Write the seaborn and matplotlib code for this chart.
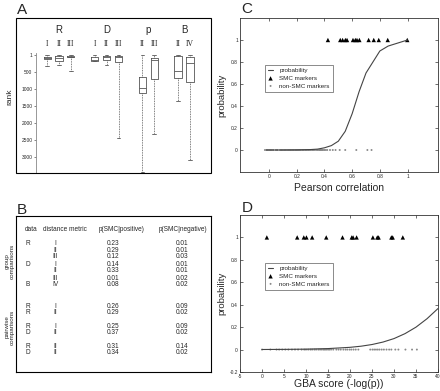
import matplotlib
matplotlib.use("Agg")
import matplotlib.pyplot as plt
import seaborn as sns
from matplotlib.patches import Rectangle

# -------------------------------
# Data
# -------------------------------

# Panel A: rank distributions (box summary per data set / metric)
box_group = ["R", "R", "R", "D", "D", "D", "p", "p", "B", "B"]
box_metric = ["I", "II", "III", "I", "II", "III", "II", "III", "II", "IV"]
box_whislo = [1, 1, 1, 1, 1, 1, 1, 1, 1, 1]
box_q1 = [50, 20, 20, 40, 20, 20, 645, 70, 30, 50]
box_med = [70, 80, 40, 130, 50, 40, 960, 150, 465, 230]
box_q3 = [100, 170, 50, 160, 130, 200, 1120, 690, 665, 790]
box_whishi = [318, 275, 455, 170, 280, 2450, 3450, 2325, 1357, 3100]
rank_ticks = [1, 500, 1000, 1500, 2000, 2500, 3000]

# Panel B: table
tbl_data = ["R", "", "", "D", "", "", "B", "R", "R", "R", "D", "R", "D"]
tbl_metric = ["I", "II", "III", "I", "II", "III", "IV", "I", "II", "I", "II", "II", "II"]
tbl_pos = [0.23, 0.29, 0.12, 0.14, 0.33, 0.01, 0.08, 0.26, 0.29, 0.25, 0.37, 0.31, 0.34]
tbl_neg = [0.01, 0.01, 0.03, 0.01, 0.01, 0.02, 0.02, 0.09, 0.02, 0.09, 0.02, 0.14, 0.02]
tbl_header = ["data", "distance metric", "p(SMC|positive)", "p(SMC|negative)"]

# Panel C: Pearson correlation
curve_c_x = [-0.02, 0.1, 0.2, 0.3, 0.35, 0.4, 0.45, 0.5, 0.55, 0.6, 0.65, 0.7, 0.75, 0.8, 0.86, 1.0]
curve_c_y = [0.0, 0.0, 0.001, 0.004, 0.008, 0.02, 0.04, 0.08, 0.17, 0.33, 0.53, 0.7, 0.8, 0.9, 0.945, 1.0]
smc_c = [0.425, 0.514, 0.531, 0.551, 0.563, 0.606, 0.623, 0.635, 0.652, 0.719, 0.756, 0.792, 0.857, 0.998]
nonsmc_c = [-0.03, -0.02, -0.01, 0.0, 0.01, 0.02, 0.03, 0.05, 0.06, 0.08, 0.09, 0.10, 0.11,
            0.12, 0.13, 0.14, 0.15, 0.155, 0.16, 0.17, 0.175, 0.18, 0.19, 0.195, 0.20, 0.205,
            0.21, 0.215, 0.22, 0.225, 0.23, 0.24, 0.245, 0.25, 0.26, 0.265, 0.27, 0.28, 0.285,
            0.29, 0.30, 0.31, 0.315, 0.32, 0.33, 0.34, 0.35, 0.36, 0.365, 0.37, 0.375, 0.38,
            0.385, 0.39, 0.40, 0.41, 0.42, 0.44, 0.46, 0.48, 0.51, 0.55, 0.63, 0.71, 0.74]
c_xticks = [0, 0.2, 0.4, 0.6, 0.8, 1]
c_xlabels = ["0", "0.2", "0.4", "0.6", "0.8", "1"]
c_yticks = [0, 0.2, 0.4, 0.6, 0.8, 1]
c_ylabels = ["0", "0.2", "0.4", "0.6", "0.8", "1"]

# Panel D: GBA score
curve_d_x = [0, 5, 10, 15, 20, 22.5, 25, 27.5, 30, 32.5, 35, 37.5, 40]
curve_d_y = [0.0007, 0.0017, 0.0038, 0.0088, 0.020, 0.030, 0.045, 0.067, 0.098, 0.142, 0.20, 0.275, 0.366]
smc_d = [1.1, 8.0, 9.5, 10.1, 11.4, 14.6, 18.3, 20.4, 20.7, 21.5, 25.2, 26.2, 26.5, 29.4, 29.7, 32.0]
nonsmc_d = [0.0, 1.9, 3.3, 3.9, 4.6, 5.3, 6.0, 6.8, 7.5, 8.2, 9.0, 9.6, 10.0, 10.5, 11.0, 11.4,
            11.9, 12.3, 12.8, 13.2, 13.6, 14.0, 14.3, 14.6, 15.0, 15.3, 15.7, 16.2, 16.9, 17.4,
            17.9, 18.5, 19.0, 19.4, 19.9, 20.3, 20.8, 21.3, 21.9, 24.6, 25.1, 25.5, 25.9, 26.3,
            26.7, 27.2, 27.7, 28.3, 28.9, 29.4, 30.3, 31.0, 32.6, 34.1, 35.2]
d_xticks = [-5, 0, 5, 10, 15, 20, 25, 30, 35, 40]
d_xlabels = ["-5", "0", "5", "10", "15", "20", "25", "30", "35", "40"]
d_yticks = [-0.2, 0, 0.2, 0.4, 0.6, 0.8, 1]
d_ylabels = ["-0.2", "0", "0.2", "0.4", "0.6", "0.8", "1"]

# -------------------------------
# Figure setup
# -------------------------------

sns.set_theme(style="white")
plt.rcParams["font.family"] = ["Liberation Sans", "DejaVu Sans"]

W, H = 440, 391
fig = plt.figure(figsize=(4.4, 3.91), dpi=100)
fig.patch.set_facecolor("white")


def box(x0, y0, x1, y1):
    # pixel box (top-left origin) -> figure fraction
    return [x0 / W, 1 - y1 / H, (x1 - x0) / W, (y1 - y0) / H]


letter_kw = dict(fontsize=11, ha="center", va="center")
fig.text(22 / W, 1 - 10 / H, "A", **letter_kw)
fig.text(22 / W, 1 - 210 / H, "B", **letter_kw)
fig.text(247 / W, 1 - 9 / H, "C", **letter_kw)
fig.text(247 / W, 1 - 208 / H, "D", **letter_kw)

# -------------------------------
# Panel A - boxplots
# -------------------------------

fig.add_artist(Rectangle((16 / W, 1 - 173 / H), 195 / W, 155 / H,
                         transform=fig.transFigure, fill=False, lw=0.8, ec="black"))

ax_a = fig.add_axes(box(36, 18, 209, 173))
ax_a.patch.set_alpha(0)
positions = [1, 2, 3, 5, 6, 7, 9, 10, 12, 13]
stats = []
for i in range(len(box_metric)):
    stats.append(dict(whislo=box_whislo[i], q1=box_q1[i], med=box_med[i],
                      q3=box_q3[i], whishi=box_whishi[i]))
gray = "#555555"
ax_a.bxp(stats, positions=positions, widths=0.6, showfliers=False,
         boxprops=dict(color=gray, lw=0.6),
         whiskerprops=dict(color=gray, lw=0.6, linestyle=(0, (1, 1))),
         capprops=dict(color=gray, lw=0.6),
         medianprops=dict(color=gray, lw=0.6))
ax_a.set_xlim(0.07, 14.6)
ax_a.set_ylim(3475, -1100)
ax_a.set_xticks([])
ax_a.set_yticks(rank_ticks)
ax_a.set_yticklabels([str(t) for t in rank_ticks])
ax_a.tick_params(axis="y", left=True, direction="out", length=1.5, width=0.5,
                 labelsize=3.5, pad=1, color=gray)
for s in ["top", "right", "bottom"]:
    ax_a.spines[s].set_visible(False)
ax_a.spines["left"].set_bounds(-60, 3475)
ax_a.spines["left"].set_linewidth(0.6)
ax_a.spines["left"].set_color("#888888")
fig.text(10 / W, 1 - 97 / H, "rank", rotation=90, fontsize=6, ha="center", va="center")

for g in ["R", "D", "p", "B"]:
    pos = [positions[i] for i in range(len(box_group)) if box_group[i] == g]
    ax_a.text(sum(pos) / len(pos), -741, g, fontsize=7, ha="center", va="center")
for i, m in enumerate(box_metric):
    ax_a.text(positions[i], -326, m, fontsize=5.5, ha="center", va="center",
              family=["Liberation Serif", "DejaVu Serif"])

# -------------------------------
# Panel B - table
# -------------------------------

ax_b = fig.add_axes(box(16, 216, 211, 372))
ax_b.set_xlim(0, 195)
ax_b.set_ylim(156, 0)
ax_b.set_xticks([])
ax_b.set_yticks([])
for s in ax_b.spines.values():
    s.set_linewidth(0.8)
    s.set_color("black")

fs_t = 4.7
ax_b.text(9, 13, tbl_header[0], fontsize=fs_t, va="center", ha="left")
ax_b.text(27, 13, tbl_header[1], fontsize=fs_t, va="center", ha="left")
ax_b.text(106, 13, tbl_header[2], fontsize=fs_t, va="center", ha="center")
ax_b.text(167, 13, tbl_header[3], fontsize=fs_t, va="center", ha="center")

row_y = []
for i in range(7):
    row_y.append(27 + 7 * i)
for p in range(3):
    for k in range(2):
        row_y.append(91 + 20 * p + 6 * k)

for i in range(len(tbl_metric)):
    y = row_y[i]
    ax_b.text(9, y, tbl_data[i], fontsize=fs_t, va="center", ha="left")
    ax_b.text(39, y, tbl_metric[i], fontsize=fs_t, va="center", ha="center")
    ax_b.text(97, y, "%.2f" % tbl_pos[i], fontsize=fs_t, va="center", ha="center")
    ax_b.text(166, y, "%.2f" % tbl_neg[i], fontsize=fs_t, va="center", ha="center")

fig.text(10 / W, 1 - 261 / H, "group\ncomparisons", rotation=90, fontsize=4.5,
         ha="center", va="center", linespacing=1.0)
fig.text(10 / W, 1 - 327 / H, "pairwise\ncomparisons", rotation=90, fontsize=4.5,
         ha="center", va="center", linespacing=1.0)


# -------------------------------
# Panels C and D - logistic fits
# -------------------------------

def prob_panel(ax, cx, cy, smc, nonsmc, xlim, xt, xl, yt, yl, xlabel, xlab_y):
    sns.lineplot(x=cx, y=cy, ax=ax, color="#444444", lw=0.8, label="probability", zorder=3)
    sns.scatterplot(x=smc, y=[1] * len(smc), ax=ax, marker="^", s=10, color="black",
                    edgecolor="none", label="SMC markers", zorder=2)
    sns.scatterplot(x=nonsmc, y=[0] * len(nonsmc), ax=ax, marker="o", s=2, color="#8a8a8a",
                    edgecolor="none", label="non-SMC markers", zorder=1)
    ax.set_xlim(*xlim)
    ax.set_ylim(-0.2, 1.2)
    ax.set_xticks(xt)
    ax.set_xticklabels(xl)
    ax.set_yticks(yt)
    ax.set_yticklabels(yl)
    ax.tick_params(direction="in", length=2, width=0.5, top=True, right=True,
                   bottom=True, left=True, labelsize=3.5, pad=1.5, color="#333333")
    for s in ax.spines.values():
        s.set_linewidth(0.6)
        s.set_color("#333333")
    ax.set_xlabel(xlabel, fontsize=7.5, va="center")
    ax.set_ylabel("probability", fontsize=6.8)
    ax.xaxis.set_label_coords(0.5, xlab_y)
    ax.yaxis.set_label_coords(-0.07, 0.5)
    leg = ax.legend(loc="upper left", bbox_to_anchor=(0.126, 0.695), fontsize=4.5,
                    frameon=True, fancybox=False, edgecolor="#333333", borderpad=0.5,
                    handlelength=0.8, labelspacing=0.35, handletextpad=1.0,
                    borderaxespad=0)
    leg.get_frame().set_linewidth(0.5)


ax_c = fig.add_axes(box(240, 18, 438, 172))
prob_panel(ax_c, curve_c_x, curve_c_y, smc_c, nonsmc_c, (-0.21, 1.22),
           c_xticks, c_xlabels, c_yticks, c_ylabels, "Pearson correlation", -0.105)

ax_d = fig.add_axes(box(240, 215, 438, 372))
prob_panel(ax_d, curve_d_x, curve_d_y, smc_d, nonsmc_d, (-5, 40),
           d_xticks, d_xlabels, d_yticks, d_ylabels, "GBA score (-log(p))", -0.075)

fig.savefig("out.png", dpi=100)
